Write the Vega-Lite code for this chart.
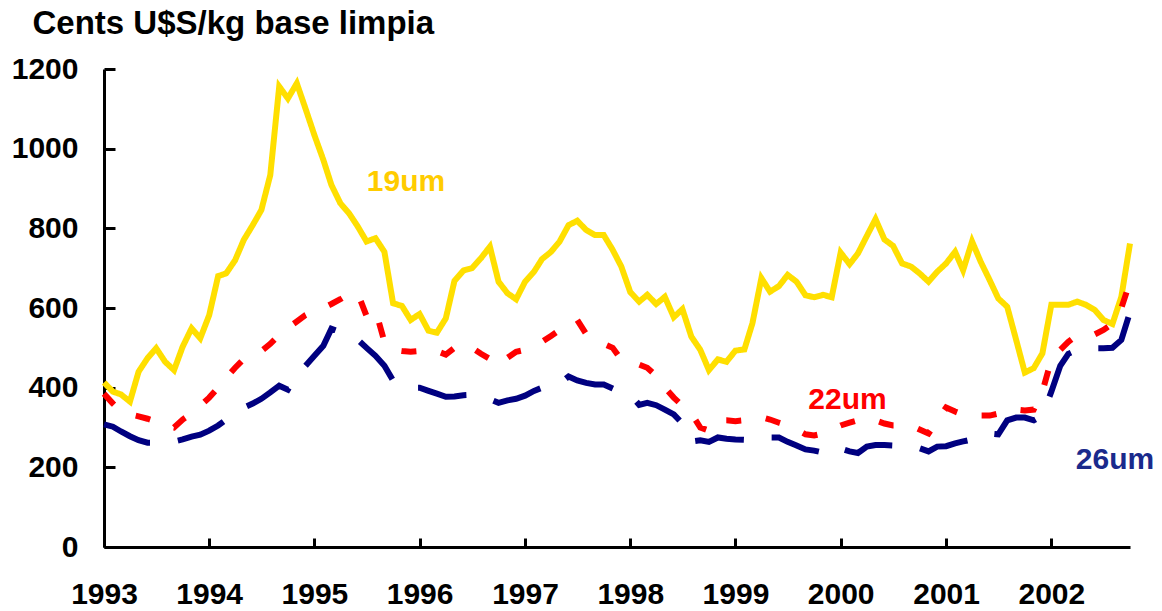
{
  "$schema": "https://vega.github.io/schema/vega-lite/v6.json",
  "width": 1026,
  "height": 478,
  "autosize": {"type": "none"},
  "padding": {"left": 104, "top": 69, "right": 32, "bottom": 64},
  "background": "white",
  "config": {
    "view": {"stroke": null},
    "font": "Liberation Sans",
    "axis": {
      "grid": false,
      "domainColor": "black",
      "domainWidth": 3,
      "tickColor": "black",
      "tickWidth": 3,
      "labelColor": "black",
      "labelFontSize": 30,
      "labelFontWeight": "bold",
      "labelFont": "Liberation Sans"
    }
  },
  "encoding": {
    "x": {
      "field": "month",
      "type": "temporal",
      "scale": {
        "type": "utc",
        "domain": [
          {"year": 1993, "month": 1, "date": 1, "utc": true},
          {"year": 2002, "month": 10, "date": 1, "utc": true}
        ]
      },
      "axis": {
        "title": null,
        "format": "%Y",
        "tickCount": {"interval": "year", "step": 1},
        "tickSize": -9,
        "labelPadding": 41,
        "labelFlush": false,
        "labelOverlap": false,
        "labelAlign": "center"
      }
    },
    "y": {
      "field": "value",
      "type": "quantitative",
      "scale": {"domain": [0, 1200], "nice": false},
      "axis": {
        "values": [0, 200, 400, 600, 800, 1000, 1200],
        "format": "d",
        "tickSize": -11,
        "labelPadding": 37,
        "title": "Cents U$S/kg base limpia",
        "titleAngle": 0,
        "titleAlign": "left",
        "titleBaseline": "alphabetic",
        "titleX": -72,
        "titleY": -36,
        "titleFontSize": 33,
        "titleFontWeight": "bold",
        "titleColor": "black",
        "titleFont": "Liberation Sans"
      }
    }
  },
  "layer": [
    {
      "data": {
        "values": [
          {"month": "1993-01-01", "a": 413, "b": 385, "c": 308},
          {"month": "1993-02-01", "a": 390, "b": 360, "c": 302},
          {"month": "1993-03-01", "a": 383, "b": 340, "c": 290},
          {"month": "1993-04-01", "a": 365, "b": 333, "c": 278},
          {"month": "1993-05-01", "a": 440, "b": 328, "c": 268},
          {"month": "1993-06-01", "a": 474, "b": 322, "c": 262},
          {"month": "1993-07-01", "a": 499, "b": 315, "c": 262},
          {"month": "1993-08-01", "a": 465, "b": 305, "c": 262},
          {"month": "1993-09-01", "a": 444, "b": 300, "c": 265},
          {"month": "1993-10-01", "a": 503, "b": 320, "c": 270},
          {"month": "1993-11-01", "a": 549, "b": 335, "c": 277},
          {"month": "1993-12-01", "a": 524, "b": 355, "c": 282},
          {"month": "1994-01-01", "a": 582, "b": 375, "c": 292},
          {"month": "1994-02-01", "a": 680, "b": 400, "c": 305},
          {"month": "1994-03-01", "a": 687, "b": 425, "c": 320},
          {"month": "1994-04-01", "a": 720, "b": 450, "c": 335},
          {"month": "1994-05-01", "a": 771, "b": 472, "c": 350},
          {"month": "1994-06-01", "a": 808, "b": 482, "c": 360},
          {"month": "1994-07-01", "a": 846, "b": 492, "c": 372},
          {"month": "1994-08-01", "a": 934, "b": 510, "c": 388},
          {"month": "1994-09-01", "a": 1156, "b": 532, "c": 405},
          {"month": "1994-10-01", "a": 1126, "b": 550, "c": 395},
          {"month": "1994-11-01", "a": 1164, "b": 566, "c": 432},
          {"month": "1994-12-01", "a": 1101, "b": 582, "c": 455},
          {"month": "1995-01-01", "a": 1034, "b": 593, "c": 480},
          {"month": "1995-02-01", "a": 972, "b": 600, "c": 505},
          {"month": "1995-03-01", "a": 909, "b": 610, "c": 548},
          {"month": "1995-04-01", "a": 863, "b": 622, "c": 540},
          {"month": "1995-05-01", "a": 838, "b": 635, "c": 522},
          {"month": "1995-06-01", "a": 804, "b": 636, "c": 520},
          {"month": "1995-07-01", "a": 767, "b": 580, "c": 500},
          {"month": "1995-08-01", "a": 775, "b": 595, "c": 480},
          {"month": "1995-09-01", "a": 741, "b": 515, "c": 455},
          {"month": "1995-10-01", "a": 612, "b": 495, "c": 418},
          {"month": "1995-11-01", "a": 605, "b": 492, "c": 405},
          {"month": "1995-12-01", "a": 570, "b": 490, "c": 400},
          {"month": "1996-01-01", "a": 585, "b": 492, "c": 400},
          {"month": "1996-02-01", "a": 543, "b": 495, "c": 392},
          {"month": "1996-03-01", "a": 538, "b": 492, "c": 385},
          {"month": "1996-04-01", "a": 574, "b": 483, "c": 377},
          {"month": "1996-05-01", "a": 668, "b": 500, "c": 378},
          {"month": "1996-06-01", "a": 694, "b": 510, "c": 381},
          {"month": "1996-07-01", "a": 700, "b": 500, "c": 382},
          {"month": "1996-08-01", "a": 725, "b": 485, "c": 379},
          {"month": "1996-09-01", "a": 754, "b": 472, "c": 371},
          {"month": "1996-10-01", "a": 666, "b": 455, "c": 362},
          {"month": "1996-11-01", "a": 637, "b": 475, "c": 368},
          {"month": "1996-12-01", "a": 622, "b": 490, "c": 372},
          {"month": "1997-01-01", "a": 666, "b": 495, "c": 380},
          {"month": "1997-02-01", "a": 691, "b": 502, "c": 392},
          {"month": "1997-03-01", "a": 723, "b": 515, "c": 400},
          {"month": "1997-04-01", "a": 741, "b": 530, "c": 402},
          {"month": "1997-05-01", "a": 767, "b": 545, "c": 410},
          {"month": "1997-06-01", "a": 808, "b": 555, "c": 428},
          {"month": "1997-07-01", "a": 819, "b": 570, "c": 418},
          {"month": "1997-08-01", "a": 796, "b": 535, "c": 412},
          {"month": "1997-09-01", "a": 783, "b": 520, "c": 408},
          {"month": "1997-10-01", "a": 783, "b": 510, "c": 408},
          {"month": "1997-11-01", "a": 746, "b": 500, "c": 398},
          {"month": "1997-12-01", "a": 704, "b": 470, "c": 388},
          {"month": "1998-01-01", "a": 640, "b": 465, "c": 383},
          {"month": "1998-02-01", "a": 616, "b": 458, "c": 357},
          {"month": "1998-03-01", "a": 633, "b": 450, "c": 362},
          {"month": "1998-04-01", "a": 610, "b": 430, "c": 356},
          {"month": "1998-05-01", "a": 628, "b": 400, "c": 345},
          {"month": "1998-06-01", "a": 577, "b": 375, "c": 333},
          {"month": "1998-07-01", "a": 597, "b": 355, "c": 310},
          {"month": "1998-08-01", "a": 528, "b": 335, "c": 265},
          {"month": "1998-09-01", "a": 495, "b": 300, "c": 268},
          {"month": "1998-10-01", "a": 444, "b": 292, "c": 264},
          {"month": "1998-11-01", "a": 471, "b": 318, "c": 275},
          {"month": "1998-12-01", "a": 465, "b": 318, "c": 272},
          {"month": "1999-01-01", "a": 493, "b": 316, "c": 270},
          {"month": "1999-02-01", "a": 496, "b": 318, "c": 269},
          {"month": "1999-03-01", "a": 562, "b": 322, "c": 269},
          {"month": "1999-04-01", "a": 675, "b": 326, "c": 270},
          {"month": "1999-05-01", "a": 641, "b": 320, "c": 275},
          {"month": "1999-06-01", "a": 655, "b": 312, "c": 275},
          {"month": "1999-07-01", "a": 683, "b": 305, "c": 264},
          {"month": "1999-08-01", "a": 666, "b": 295, "c": 255},
          {"month": "1999-09-01", "a": 632, "b": 283, "c": 245},
          {"month": "1999-10-01", "a": 627, "b": 280, "c": 242},
          {"month": "1999-11-01", "a": 633, "b": 285, "c": 237},
          {"month": "1999-12-01", "a": 627, "b": 295, "c": 233},
          {"month": "2000-01-01", "a": 739, "b": 305, "c": 247},
          {"month": "2000-02-01", "a": 710, "b": 312, "c": 240},
          {"month": "2000-03-01", "a": 737, "b": 318, "c": 236},
          {"month": "2000-04-01", "a": 781, "b": 323, "c": 252},
          {"month": "2000-05-01", "a": 823, "b": 318, "c": 256},
          {"month": "2000-06-01", "a": 772, "b": 310, "c": 256},
          {"month": "2000-07-01", "a": 756, "b": 305, "c": 255},
          {"month": "2000-08-01", "a": 712, "b": 305, "c": 253},
          {"month": "2000-09-01", "a": 704, "b": 305, "c": 252},
          {"month": "2000-10-01", "a": 687, "b": 295, "c": 248},
          {"month": "2000-11-01", "a": 666, "b": 285, "c": 240},
          {"month": "2000-12-01", "a": 691, "b": 318, "c": 252},
          {"month": "2001-01-01", "a": 712, "b": 350, "c": 253},
          {"month": "2001-02-01", "a": 741, "b": 340, "c": 260},
          {"month": "2001-03-01", "a": 695, "b": 332, "c": 265},
          {"month": "2001-04-01", "a": 767, "b": 330, "c": 270},
          {"month": "2001-05-01", "a": 716, "b": 330, "c": 278},
          {"month": "2001-06-01", "a": 670, "b": 330, "c": 285},
          {"month": "2001-07-01", "a": 624, "b": 335, "c": 283},
          {"month": "2001-08-01", "a": 603, "b": 345, "c": 318},
          {"month": "2001-09-01", "a": 520, "b": 345, "c": 325},
          {"month": "2001-10-01", "a": 438, "b": 343, "c": 325},
          {"month": "2001-11-01", "a": 449, "b": 345, "c": 318},
          {"month": "2001-12-01", "a": 486, "b": 390, "c": 330},
          {"month": "2002-01-01", "a": 608, "b": 470, "c": 390},
          {"month": "2002-02-01", "a": 608, "b": 495, "c": 455},
          {"month": "2002-03-01", "a": 608, "b": 515, "c": 485},
          {"month": "2002-04-01", "a": 616, "b": 532, "c": 495},
          {"month": "2002-05-01", "a": 608, "b": 532, "c": 498},
          {"month": "2002-06-01", "a": 595, "b": 534, "c": 499},
          {"month": "2002-07-01", "a": 570, "b": 545, "c": 499},
          {"month": "2002-08-01", "a": 560, "b": 560, "c": 500},
          {"month": "2002-09-01", "a": 628, "b": 600, "c": 520},
          {"month": "2002-10-01", "a": 762, "b": 666, "c": 590}
        ]
      },
      "transform": [{"fold": ["a", "b", "c"], "as": ["series", "value"]}],
      "mark": {"type": "line", "strokeWidth": 6},
      "encoding": {
        "stroke": {
          "field": "series",
          "type": "nominal",
          "scale": {"domain": ["a", "b", "c"], "range": ["#FFDF00", "#FF0000", "#000080"]},
          "legend": null
        },
        "strokeDash": {
          "field": "series",
          "type": "nominal",
          "scale": {"domain": ["a", "b", "c"], "range": [[1, 0], [15, 25], [50, 28]]},
          "legend": null
        }
      }
    },
    {
      "data": {
        "values": [
          {"month": "1995-11-15", "value": 916, "label": "19um"},
          {"month": "2000-01-25", "value": 369, "label": "22um"},
          {"month": "2002-08-10", "value": 218, "label": "26um"}
        ]
      },
      "mark": {"type": "text", "fontSize": 30, "fontWeight": "bold", "font": "Liberation Sans", "align": "center", "baseline": "middle"},
      "encoding": {
        "text": {"field": "label", "type": "nominal"},
        "fill": {
          "field": "label",
          "type": "nominal",
          "scale": {"domain": ["19um", "22um", "26um"], "range": ["#FFCC00", "#FF0000", "#1A2A8C"]},
          "legend": null
        }
      }
    }
  ]
}
